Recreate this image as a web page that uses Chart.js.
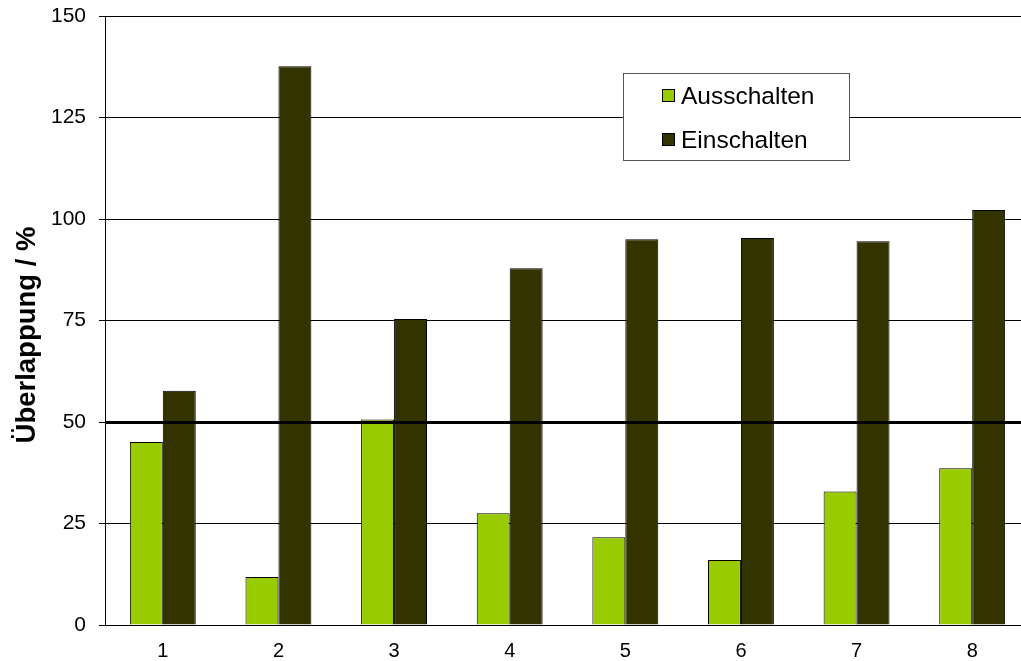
<!DOCTYPE html>
<html>
<head>
<meta charset="utf-8">
<script src="https://cdn.jsdelivr.net/npm/chart.js@4"></script>
<style>
  html, body { margin:0; padding:0; background:#fff; overflow:hidden; }
  #wrap { width:1040px; height:661px; position:relative; }
</style>
</head>
<body>
<div id="wrap"><canvas id="mycanvas"></canvas></div>
<script>
var categories = ['1','2','3','4','5','6','7','8'];
var ausschalten = [45.1, 11.8, 50.6, 27.5, 21.6, 16.0, 32.9, 38.6];
var einschalten = [57.7, 137.6, 75.4, 87.9, 95.0, 95.3, 94.5, 102.2];
var yTicks = [0, 25, 50, 75, 100, 125, 150];
var refLine = 50;

var font = 'Arial, "Liberation Sans", sans-serif';

// thick line at 50 + legend box + rotated axis title
var extras = {
  id: 'extras',
  afterDatasetsDraw: function(chart){
    var ctx = chart.ctx, y = chart.scales.y, a = chart.chartArea;
    var py = Math.round(y.getPixelForValue(refLine)) + 0.5;
    ctx.save();
    ctx.strokeStyle = '#000';
    ctx.lineWidth = 3;
    ctx.beginPath();
    ctx.moveTo(a.left, py);
    ctx.lineTo(a.right, py);
    ctx.stroke();

    // legend
    var bx = 623.5, by = 73.5, bw = 226, bh = 87;
    ctx.fillStyle = '#fff';
    ctx.fillRect(bx, by, bw, bh);
    ctx.strokeStyle = '#555';
    ctx.lineWidth = 1;
    ctx.strokeRect(bx, by, bw, bh);
    ctx.font = '24.5px ' + font;
    ctx.textBaseline = 'middle';
    chart.data.datasets.forEach(function(ds, i){
      var cy = 96 + i * 44;
      ctx.fillStyle = ds.backgroundColor;
      ctx.fillRect(662, cy - 7, 13, 13);
      ctx.strokeStyle = '#000';
      ctx.strokeRect(662.5, cy - 6.5, 12, 12);
      ctx.fillStyle = '#000';
      ctx.fillText(ds.label, 681, cy + 1);
    });

    // y title
    ctx.translate(27, 335);
    ctx.rotate(-Math.PI / 2);
    ctx.font = 'bold 27.5px ' + font;
    ctx.textAlign = 'center';
    ctx.textBaseline = 'middle';
    ctx.fillStyle = '#000';
    ctx.fillText('Überlappung / %', 0, 0);
    ctx.restore();
  }
};

var chartdata = {
  labels: categories,
  datasets: [
    {
      label: 'Ausschalten',
      backgroundColor: '#99CC00',
      borderColor: '#000',
      borderWidth: 1,
      data: ausschalten
    },
    {
      label: 'Einschalten',
      backgroundColor: '#333300',
      borderColor: '#000',
      borderWidth: 1,
      data: einschalten
    }
  ]
};

var ctx = document.getElementById('mycanvas');
var barGraph = new Chart(ctx, {
  type: 'bar',
  data: chartdata,
  plugins: [extras],
  options: {
    responsive: true,
    maintainAspectRatio: false,
    animation: false,
    layout: { padding: { top: 16, right: 10, left: 0, bottom: 0 } },
    plugins: { legend: { display: false }, tooltip: { enabled: false } },
    datasets: { bar: { categoryPercentage: 0.57, barPercentage: 1.0 } },
    scales: {
      x: {
        grid: { display: false, drawTicks: true, tickLength: 6, tickColor: '#000', offset: true },
        border: { color: '#000', width: 1 },
        ticks: { color: '#000', font: { family: font, size: 20 }, padding: 8 },
        afterFit: function(s){ s.height = 36; s.paddingLeft = 0; s.paddingRight = 0; }
      },
      y: {
        min: 0, max: 150,
        afterBuildTicks: function(s){ s.ticks = yTicks.map(function(v){ return { value: v }; }); },
        grid: { color: '#000', lineWidth: 1, tickLength: 6, tickColor: '#000' },
        border: { color: '#000', width: 1 },
        ticks: { color: '#000', font: { family: font, size: 21 }, padding: 13 },
        afterFit: function(s){ s.width = 105; s.paddingTop = 0; s.paddingBottom = 0; }
      }
    }
  }
});
</script>
</body>
</html>
